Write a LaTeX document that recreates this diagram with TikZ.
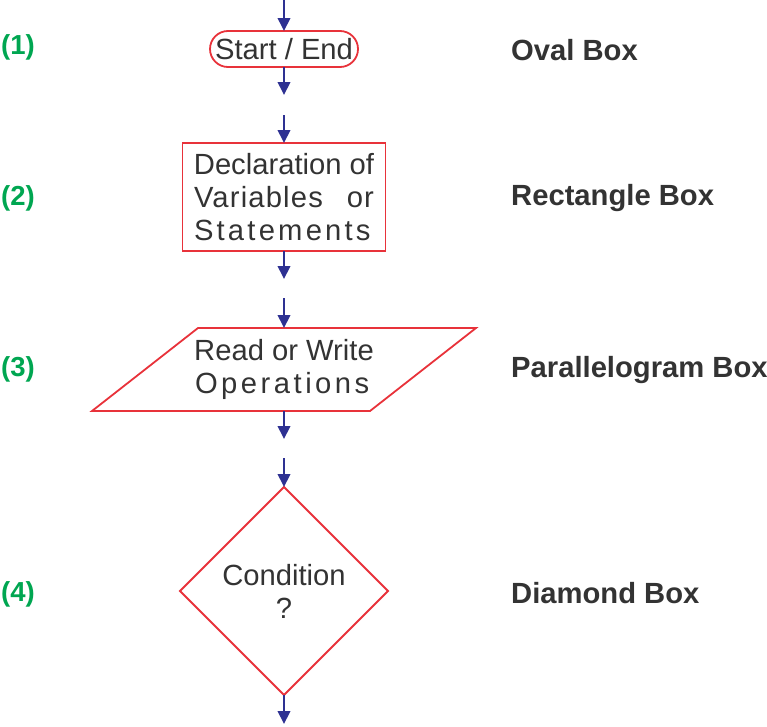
\documentclass[tikz,border=0pt]{standalone}
\usepackage{fontspec}
\setmainfont{Liberation Sans}
\usepackage{tikz}
\usetikzlibrary{arrows.meta, positioning, shapes.geometric}

\definecolor{boxred}{HTML}{E8323A}
\definecolor{flowblue}{HTML}{2E3192}
\definecolor{numgreen}{HTML}{00A651}
\definecolor{ink}{HTML}{333333}

\newcommand{\spreadtext}[3]{\makebox[#1][s]{\addfontfeature{LetterSpace=#2}#3}}

\begin{document}
\begin{tikzpicture}[x=1pt,y=-1pt,>={Triangle[length=13pt,width=12.5pt]},
        font=\fontsize{29.2}{33}\selectfont,
        flow/.style={->,draw=flowblue,line width=2pt},
        box/.style={draw=boxred,line width=1.8pt,text=ink,inner sep=0pt,outer sep=0pt,align=center},
        ovalbox/.style={box,minimum width=148pt,minimum height=36pt,rounded corners=18pt},
        rectbox/.style={box,minimum width=203pt,minimum height=108pt},
        iobox/.style={box,draw=none,minimum width=278pt,minimum height=83pt},
        decisionbox/.style={box,diamond,aspect=1,minimum width=208pt,minimum height=208pt},
        num/.style={anchor=base west,inner sep=0pt,text=numgreen,font=\fontsize{27.5}{33}\selectfont\bfseries},
        caption/.style={anchor=base west,inner sep=0pt,text=ink,font=\fontsize{29.2}{33}\selectfont\bfseries}]

    \useasboundingbox (0,0) rectangle (767,726);

    % the four boxes
    \node[ovalbox] (oval) at (284,49) {Start / End};
    \node[rectbox] (rect) at (284,197) {Declaration of\\
        \spreadtext{180pt}{4}{Variables or}\\
        \spreadtext{180pt}{11}{Statements}};
    \node[iobox] (para) at (284,369.5) {Read or Write\\
        \spreadtext{178pt}{12}{Operations}};
    \draw[draw=boxred,line width=1.8pt]
        ([xshift=53pt]para.north west) -- ([xshift=53pt]para.north east)
        -- ([xshift=-53pt]para.south east) -- ([xshift=-53pt]para.south west) -- cycle;
    \node[decisionbox] (diam) at (284,591) {Condition\\?};

    % free ends of the flow lines
    \coordinate (in1) at (284,0);
    \coordinate (out1) at (284,95);
    \coordinate (in2) at (284,115);
    \coordinate (out2) at (284,279);
    \coordinate (in3) at (284,298);
    \coordinate (out3) at (284,439);
    \coordinate (in4) at (284,458);
    \coordinate (out4) at (284,724);

    \draw[flow] (in1) -- (oval.north);
    \draw[flow] (oval.south) -- (out1);
    \draw[flow] (in2) -- (rect.north);
    \draw[flow] (rect.south) -- (out2);
    \draw[flow] (in3) -- (para.north);
    \draw[flow] (para.south) -- (out3);
    \draw[flow] (in4) -- (diam.north);
    \draw[flow] (diam.south) -- (out4);

    % numbers and names
    \node[num] (n1) at (1,54) {(1)};
    \node[num] (n2) at (1,205) {(2)};
    \node[num] (n3) at (1,376) {(3)};
    \node[num] (n4) at (1,601) {(4)};
    \node[caption] (c1) at (511,60) {Oval Box};
    \node[caption] (c2) at (511,205) {Rectangle Box};
    \node[caption] (c3) at (511,377) {Parallelogram Box};
    \node[caption] (c4) at (511,603) {Diamond Box};
\end{tikzpicture}
\end{document}
